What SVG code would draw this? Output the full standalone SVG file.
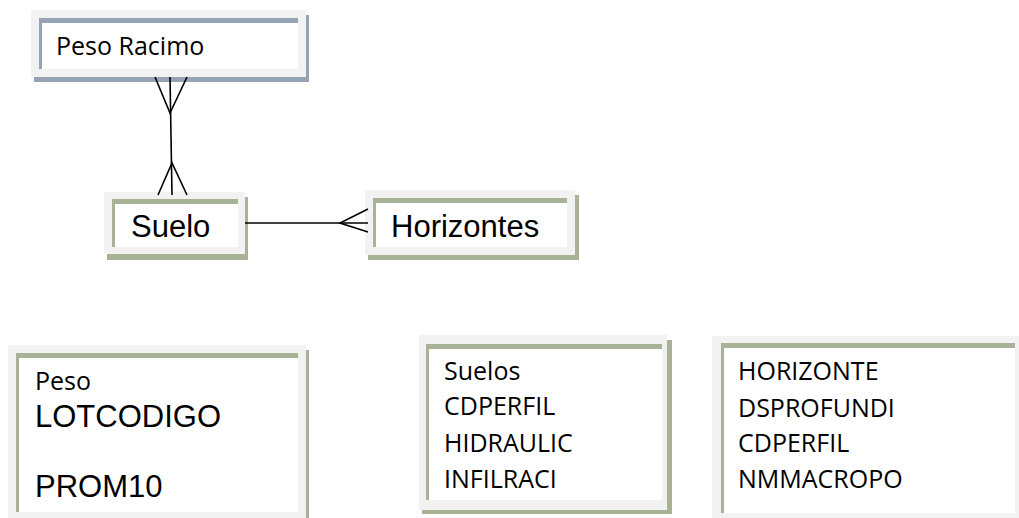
<svg xmlns="http://www.w3.org/2000/svg" width="1019" height="518" viewBox="0 0 1019 518">
  <style>
    .frame { fill: #f2f2f2; }
    .inner { fill: #ffffff; }
    .sh-blue { fill: #95a3b4; }
    .sh-green { fill: #a8b296; }
    .cal { font-family: "Open Sans", "Liberation Sans", sans-serif; font-size: 25px; fill: #000; }
    .ari { font-family: "Liberation Sans", Arial, sans-serif; font-size: 31px; fill: #000; }
    .link { stroke: #000; stroke-width: 1.6; fill: none; stroke-linecap: butt; }
  </style>
  <rect width="1019" height="518" fill="#ffffff"/>

  <!-- Peso Racimo entity -->
  <g id="peso-racimo">
    <rect class="sh-blue" x="34" y="15" width="275" height="67"/>
    <rect class="frame" x="31" y="10" width="275" height="67"/>
    <rect class="inner" x="39" y="18" width="259" height="51"/>
    <rect class="sh-blue" x="39" y="18" width="259" height="5"/>
    <rect class="sh-blue" x="39" y="18" width="3" height="51"/>
    <text class="cal" x="56" y="55">Peso Racimo</text>
  </g>

  <!-- Suelo entity -->
  <g id="suelo">
    <rect class="sh-green" x="107" y="197" width="141" height="63"/>
    <rect class="frame" x="104" y="192" width="141" height="62"/>
    <rect class="inner" x="112" y="199" width="126" height="48"/>
    <rect class="sh-green" x="112" y="199" width="126" height="5"/>
    <rect class="sh-green" x="112" y="199" width="3" height="48"/>
    <text class="ari" x="131" y="237">Suelo</text>
  </g>

  <!-- Horizontes entity -->
  <g id="horizontes">
    <rect class="sh-green" x="368" y="195" width="211" height="65"/>
    <rect class="frame" x="365" y="190" width="210" height="65"/>
    <rect class="inner" x="373" y="198" width="194" height="49"/>
    <rect class="sh-green" x="373" y="198" width="194" height="5"/>
    <rect class="sh-green" x="373" y="198" width="3" height="49"/>
    <text class="ari" x="391" y="237">Horizontes</text>
  </g>

  <!-- Peso attribute list -->
  <g id="peso-attrs">
    <rect class="sh-green" x="11" y="350" width="298" height="175"/>
    <rect class="frame" x="8" y="345" width="298" height="180"/>
    <rect class="inner" x="16" y="353" width="282" height="159"/>
    <rect class="sh-green" x="16" y="353" width="282" height="5"/>
    <rect class="sh-green" x="16" y="353" width="3" height="159"/>
    <text class="cal" x="35" y="390">Peso</text>
    <text class="ari" x="35" y="427">LOTCODIGO</text>
    <text class="ari" x="35" y="497">PROM10</text>
  </g>

  <!-- Suelos attribute list -->
  <g id="suelos-attrs">
    <rect class="sh-green" x="422" y="340" width="250" height="174"/>
    <rect class="frame" x="419" y="335" width="248" height="175"/>
    <rect class="inner" x="426" y="344" width="236" height="156"/>
    <rect class="sh-green" x="426" y="344" width="236" height="5"/>
    <rect class="sh-green" x="426" y="344" width="3" height="156"/>
    <text class="cal" x="444" y="380">Suelos</text>
    <text class="cal" x="444" y="415">CDPERFIL</text>
    <text class="cal" x="444" y="452">HIDRAULIC</text>
    <text class="cal" x="444" y="488">INFILRACI</text>
  </g>

  <!-- Horizonte attribute list -->
  <g id="horizonte-attrs">
    <rect class="frame" x="712" y="336" width="315" height="190"/>
    <rect class="inner" x="721" y="343" width="294" height="170"/>
    <rect class="sh-green" x="721" y="343" width="294" height="5"/>
    <rect class="sh-green" x="721" y="343" width="3" height="170"/>
    <text class="cal" x="738" y="380">HORIZONTE</text>
    <text class="cal" x="738" y="417">DSPROFUNDI</text>
    <text class="cal" x="738" y="452">CDPERFIL</text>
    <text class="cal" x="738" y="488">NMMACROPO</text>
  </g>

  <!-- Relationship lines with crow's-foot ends -->
  <g id="connectors">
    <line class="link" x1="170" y1="77" x2="172" y2="195"/>
    <polyline class="link" points="155,77 170,113 187,77"/>
    <polyline class="link" points="158,195 172,163 187,195"/>
    <line class="link" x1="245" y1="223" x2="368" y2="223"/>
    <polyline class="link" points="368,209 340,223 368,232"/>
  </g>
</svg>
